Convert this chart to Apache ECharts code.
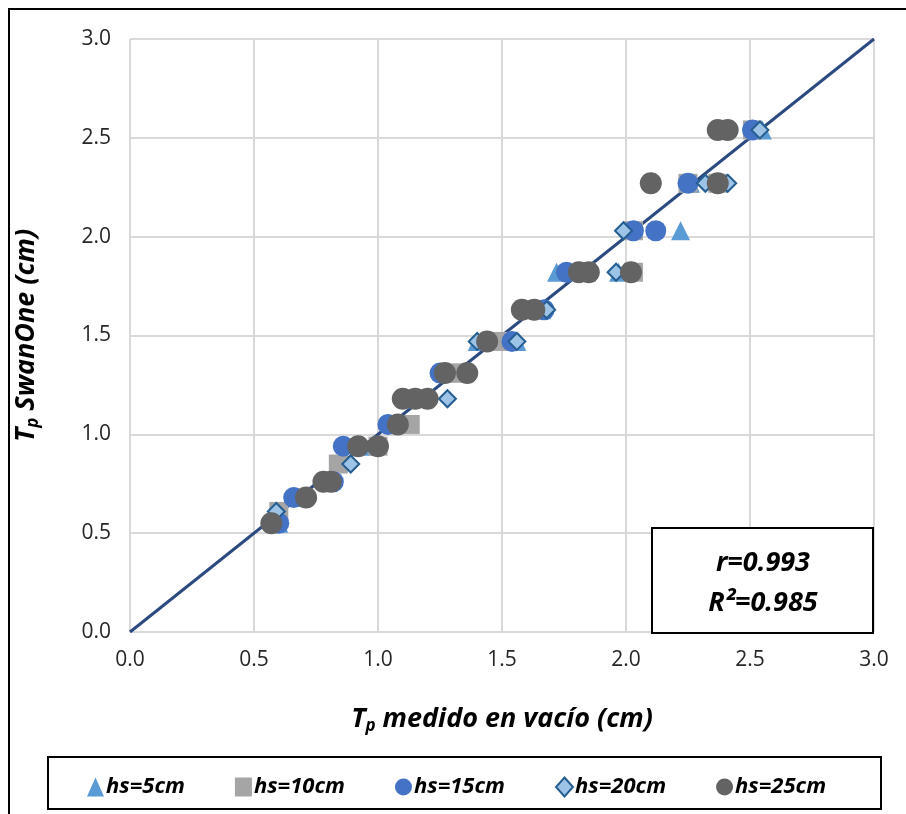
<!DOCTYPE html>
<html>
<head>
<meta charset="utf-8">
<script src="https://cdn.jsdelivr.net/npm/echarts@6/dist/echarts.min.js"></script>
<style>
  html, body { margin: 0; padding: 0; background: #fff; }
</style>
</head>
<body>
<div id="chart" style="width: 906px; height: 814px;"></div>
<script>
// tick labels of both axes
const tickValues = [0, 0.5, 1.0, 1.5, 2.0, 2.5, 3.0];

// [T_p medido en vacío, T_p SwanOne]
const hs5 = [[0.60, 0.55], [0.68, 0.68], [0.80, 0.76], [0.98, 0.94], [1.06, 1.05], [1.13, 1.18], [1.27, 1.31],
  [1.40, 1.47], [1.56, 1.47], [1.66, 1.63], [1.72, 1.82], [1.97, 1.82], [2.22, 2.03], [2.26, 2.27], [2.55, 2.54]];
const hs10 = [[0.60, 0.61], [0.84, 0.85], [1.00, 0.94], [1.13, 1.05], [1.18, 1.18], [1.30, 1.31], [1.34, 1.31],
  [1.50, 1.47], [1.60, 1.63], [1.84, 1.82], [2.03, 1.82], [2.03, 2.03], [2.25, 2.27], [2.37, 2.27], [2.51, 2.54]];
const hs15 = [[0.60, 0.55], [0.66, 0.68], [0.82, 0.76], [0.86, 0.94], [1.04, 1.05], [1.25, 1.31], [1.54, 1.47],
  [1.67, 1.63], [1.76, 1.82], [2.03, 2.03], [2.12, 2.03], [2.25, 2.27], [2.51, 2.54]];
const hs20 = [[0.59, 0.61], [0.89, 0.85], [0.98, 0.94], [1.28, 1.18], [1.40, 1.47], [1.56, 1.47], [1.68, 1.63],
  [1.96, 1.82], [1.99, 2.03], [2.32, 2.27], [2.41, 2.27], [2.54, 2.54]];
const hs25 = [[0.57, 0.55], [0.71, 0.68], [0.78, 0.76], [0.81, 0.76], [0.92, 0.94], [1.00, 0.94], [1.08, 1.05],
  [1.10, 1.18], [1.15, 1.18], [1.20, 1.18], [1.27, 1.31], [1.36, 1.31], [1.44, 1.47], [1.58, 1.63], [1.63, 1.63],
  [1.81, 1.82], [1.85, 1.82], [2.02, 1.82], [2.10, 2.27], [2.37, 2.27], [2.37, 2.54], [2.41, 2.54]];
// 1:1 line
const identityLine = [[0, 0], [3, 3]];

const seriesNames = ['hs=5cm', 'hs=10cm', 'hs=15cm', 'hs=20cm', 'hs=25cm'];

const font = '"Open Sans", "Noto Sans", sans-serif';
const myChart = echarts.init(document.getElementById('chart'));

const titleRich = {
  t: { fontSize: 27, fontWeight: 'bold', fontStyle: 'italic', color: '#000', fontFamily: font },
  s: { fontSize: 17, fontWeight: 'bold', fontStyle: 'italic', color: '#000', fontFamily: font, padding: [14, 0, 0, 0] }
};

const option = {
  animation: false,
  textStyle: { fontFamily: font },
  grid: { left: 130, right: 32, top: 39, bottom: 182 },
  xAxis: {
    type: 'value',
    min: 0, max: 3, interval: 0.5,
    name: '{t|T}{s|p}{t| medido en vacío (cm)}',
    nameLocation: 'middle',
    nameGap: 72,
    nameTextStyle: { rich: titleRich },
    axisLine: { show: false },
    axisTick: { show: false },
    axisLabel: { fontSize: 21, color: '#262626', margin: 18, formatter: v => v.toFixed(1) },
    splitLine: { show: true, lineStyle: { color: '#d9d9d9', width: 2 } }
  },
  yAxis: {
    type: 'value',
    min: 0, max: 3, interval: 0.5,
    name: '{t|T}{s|p}{t| SwanOne (cm)}',
    nameLocation: 'middle',
    nameGap: 88,
    nameRotate: 90,
    nameTextStyle: { rich: titleRich },
    axisLine: { show: false },
    axisTick: { show: false },
    axisLabel: { fontSize: 21, color: '#262626', margin: 19, formatter: v => v.toFixed(1) },
    splitLine: { show: true, lineStyle: { color: '#d9d9d9', width: 2 } }
  },
  legend: {
    data: seriesNames,
    left: 82,
    top: 771,
    itemGap: 50,
    itemWidth: 17,
    itemHeight: 19,
    textStyle: { fontSize: 22, fontWeight: 'bold', fontStyle: 'italic', color: '#000', padding: [0, 0, 0, -3] }
  },
  graphic: [
    { type: 'rect', shape: { x: 9, y: 9, width: 910, height: 820 }, style: { fill: 'none', stroke: '#000', lineWidth: 2 }, silent: true },
    { type: 'rect', shape: { x: 48, y: 757, width: 833, height: 52 }, style: { fill: 'none', stroke: '#000', lineWidth: 2 }, silent: true },
    { type: 'rect', shape: { x: 652, y: 528, width: 221, height: 105 }, style: { fill: '#fff', stroke: '#000', lineWidth: 2 }, z: 10 },
    {
      type: 'text', x: 763, y: 563, z: 11,
      style: { text: 'r=0.993', font: 'italic bold 27px ' + font, fill: '#000', textAlign: 'center', textVerticalAlign: 'middle' }
    },
    {
      type: 'text', x: 763, y: 603, z: 11,
      style: { text: 'R²=0.985', font: 'italic bold 27px ' + font, fill: '#000', textAlign: 'center', textVerticalAlign: 'middle' }
    }
  ],
  series: [
    {
      name: 'line',
      type: 'line',
      data: identityLine,
      symbol: 'none',
      lineStyle: { color: '#2b4a80', width: 3 },
      z: 1
    },
    {
      name: seriesNames[0], type: 'scatter', data: hs5,
      symbol: 'triangle', symbolSize: 19,
      itemStyle: { color: '#5b9bd5', opacity: 1 }, z: 2
    },
    {
      name: seriesNames[1], type: 'scatter', data: hs10,
      symbol: 'rect', symbolSize: 19,
      itemStyle: { color: '#a5a5a5', opacity: 1 }, z: 3
    },
    {
      name: seriesNames[2], type: 'scatter', data: hs15,
      symbol: 'circle', symbolSize: 21,
      itemStyle: { color: '#4472c4', opacity: 1 }, z: 4
    },
    {
      name: seriesNames[3], type: 'scatter', data: hs20,
      symbol: 'diamond', symbolSize: 17,
      itemStyle: { color: '#9dc3e6', borderColor: '#255e91', borderWidth: 2, opacity: 1 }, z: 5
    },
    {
      name: seriesNames[4], type: 'scatter', data: hs25,
      symbol: 'circle', symbolSize: 22,
      itemStyle: { color: '#636363', opacity: 1 }, z: 6
    }
  ]
};

myChart.setOption(option);
</script>
</body>
</html>
